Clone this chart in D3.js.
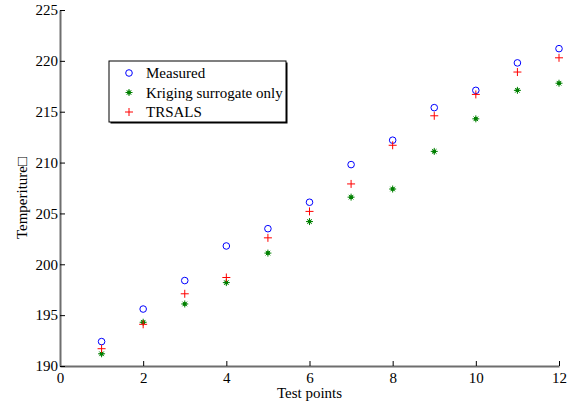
<!DOCTYPE html>
<html>
<head>
<meta charset="utf-8">
<script src="https://cdn.jsdelivr.net/npm/d3@7"></script>
<style>
  body { margin: 0; background: #fff; }
  svg { display: block; font-family: "Liberation Serif", "Times New Roman", serif; }
</style>
</head>
<body>
<div id="chart"></div>
<script>
// test point index
const testPoints = [1, 2, 3, 4, 5, 6, 7, 8, 9, 10, 11, 12];

// temperatures
const measured = [192.4, 195.6, 198.4, 201.8, 203.5, 206.1, 209.8, 212.2, 215.4, 217.1, 219.8, 221.2];
const kriging  = [191.2, 194.3, 196.1, 198.2, 201.1, 204.2, 206.6, 207.4, 211.1, 214.3, 217.1, 217.8];
const trsals   = [191.7, 194.1, 197.1, 198.7, 202.6, 205.2, 207.9, 211.7, 214.6, 216.7, 218.9, 220.3];

const xTicks = [0, 2, 4, 6, 8, 10, 12];
const yTicks = [190, 195, 200, 205, 210, 215, 220, 225];

const seriesNames = ["Measured", "Kriging surrogate only", "TRSALS"];

const width = 574, height = 404;
const margin = { left: 60, right: 15, top: 10, bottom: 38 };

const svg = d3.select("#chart").append("svg")
  .attr("width", width)
  .attr("height", height);

const x = d3.scaleLinear()
  .domain([0, 12])
  .range([margin.left, width - margin.right]);

const y = d3.scaleLinear()
  .domain([190, 225])
  .range([height - margin.bottom, margin.top]);

// x axis
const xAxis = svg.append("g")
  .attr("transform", `translate(0,${y(190)})`)
  .call(d3.axisBottom(x).tickValues(xTicks).tickSizeInner(-5).tickSizeOuter(0).tickPadding(6));

// y axis
const yAxis = svg.append("g")
  .attr("transform", `translate(${x(0)},0)`)
  .call(d3.axisLeft(y).tickValues(yTicks).tickSizeInner(-5).tickSizeOuter(0).tickPadding(2));

[xAxis, yAxis].forEach(ax => {
  ax.select(".domain").attr("stroke", "#6e6e6e").attr("stroke-width", 2);
  ax.selectAll(".tick line").attr("stroke", "#000").attr("stroke-width", 1);
  ax.selectAll(".tick text")
    .attr("fill", "#000")
    .style("font-size", "15px")
    .style("font-family", "Liberation Serif, serif");
});
yAxis.selectAll(".tick text").attr("x", -2);

// axis titles
svg.append("text")
  .attr("x", (x(0) + x(12)) / 2)
  .attr("y", 398)
  .attr("text-anchor", "middle")
  .style("font-size", "15px")
  .text("Test points");

svg.append("text")
  .attr("transform", `translate(27,${(y(190) + y(225)) / 2 + 10}) rotate(-90)`)
  .attr("text-anchor", "middle")
  .style("font-size", "15px")
  .text("Temperiture\u25A1");

// markers
function drawCircle(g, cx, cy) {
  g.append("circle")
    .attr("cx", cx).attr("cy", cy).attr("r", 3.3)
    .attr("fill", "none").attr("stroke", "#0000ff").attr("stroke-width", 1);
}
function drawPlus(g, cx, cy) {
  g.append("path")
    .attr("d", `M${cx - 4},${cy}H${cx + 4}M${cx},${cy - 4}V${cy + 4}`)
    .attr("stroke", "#ff0000").attr("stroke-width", 1).attr("fill", "none");
}
function drawStar(g, cx, cy) {
  g.append("path")
    .attr("d", `M${cx - 3.5},${cy}H${cx + 3.5}M${cx},${cy - 3.5}V${cy + 3.5}M${cx - 2.3},${cy - 2.3}L${cx + 2.3},${cy + 2.3}M${cx - 2.3},${cy + 2.3}L${cx + 2.3},${cy - 2.3}`)
    .attr("stroke", "#008000").attr("stroke-width", 1).attr("fill", "none");
  g.append("circle")
    .attr("cx", cx).attr("cy", cy).attr("r", 2)
    .attr("fill", "#008000");
}

const marks = svg.append("g");
testPoints.forEach((t, i) => {
  drawCircle(marks, x(t), y(measured[i]));
  drawStar(marks, x(t), y(kriging[i]));
  drawPlus(marks, x(t), y(trsals[i]));
});

// legend
const legend = svg.append("g");
const lx = 109, ly = 61, lw = 177, lh = 61;
legend.append("rect")
  .attr("x", lx + 1.5).attr("y", ly + 1.5).attr("width", lw).attr("height", lh)
  .attr("fill", "#000");
legend.append("rect")
  .attr("x", lx).attr("y", ly).attr("width", lw).attr("height", lh)
  .attr("fill", "#fff").attr("stroke", "#000").attr("stroke-width", 1);

const drawers = [drawCircle, drawStar, drawPlus];
seriesNames.forEach((name, i) => {
  const ry = 73 + i * 19.5;
  drawers[i](legend, 129, ry);
  legend.append("text")
    .attr("x", 146).attr("y", ry + 5)
    .style("font-size", "15px")
    .text(name);
});
</script>
</body>
</html>
